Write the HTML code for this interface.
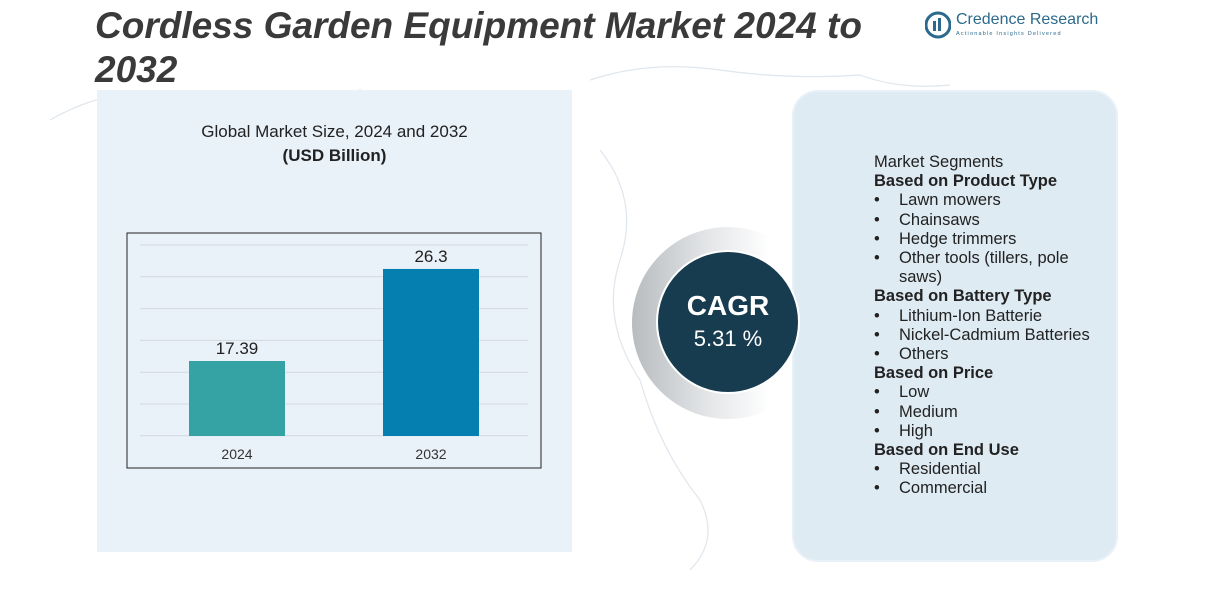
<!DOCTYPE html>
<html><head><meta charset="utf-8"><style>
body{margin:0;width:1232px;height:592px;background:#fff;overflow:hidden;font-family:"Liberation Sans",sans-serif;position:relative}
.abs{position:absolute}
#title{left:95px;top:4px;font-size:37px;font-weight:bold;font-style:italic;color:#3a3a3a;line-height:44px;width:800px}
#lp{left:97px;top:90px;width:475px;height:462px;background:#e9f1f9}
#rp{left:792px;top:90px;width:322px;height:468px;background:#deebf3;border:2px solid #e8f1f7;border-radius:26px}
.seg{left:874px;top:153px;font-size:16.5px;color:#222;line-height:19.2px}
.seg b{font-weight:bold}
.li{padding-left:25px;position:relative}
.li:before{content:"•";position:absolute;left:0}
</style></head><body>
<svg class="abs" style="left:0;top:0" width="1232" height="592">
<g fill="none" stroke="#dfe6ec" stroke-width="1.2">
<path d="M50 120 Q120 80 200 95 T360 90 Q420 110 480 100 L560 95"/>
<path d="M590 80 Q650 60 720 70 T860 75 Q900 90 950 85"/>
<path d="M600 150 Q640 200 620 260 Q600 320 640 380 Q660 450 700 500 Q720 540 690 570"/>
</g></svg>
<div id="title" class="abs">Cordless Garden Equipment Market 2024 to 2032</div>
<div class="abs" style="left:925px;top:10px;width:190px;height:30px;white-space:nowrap">
<svg width="26" height="28" style="position:absolute;left:0;top:1px"><circle cx="13" cy="14" r="12" fill="none" stroke="#2b6a8c" stroke-width="3"/><rect x="8" y="10" width="3" height="10" fill="#2b6a8c"/><rect x="13" y="7" width="3" height="13" fill="#2b6a8c"/></svg>
<div style="position:absolute;left:31px;top:1px;font-size:16px;color:#2b6a8c">Credence Research</div>
<div style="position:absolute;left:31px;top:21px;font-size:5.5px;color:#2b6a8c;letter-spacing:1.2px">Actionable Insights Delivered</div>
</div>
<div id="lp" class="abs"></div>
<div class="abs" style="left:97px;top:120px;width:475px;text-align:center;font-size:17px;color:#222;line-height:24px">Global Market Size, 2024 and 2032<br><b>(USD Billion)</b></div>
<svg id="chart" class="abs" style="left:0;top:0" width="600" height="592"></svg>
<div id="rp" class="abs"></div>
<div class="abs" style="left:632px;top:227px;width:192px;height:192px;border-radius:50%;background:linear-gradient(90deg,#b8bcbf 0%,#e4e6e8 40%,rgba(255,255,255,0) 72%)"></div>
<div class="abs" style="left:656px;top:250px;width:140px;height:140px;border-radius:50%;background:#173c4f;border:2px solid #fff;text-align:center;color:#fff">
<div style="margin-top:38px;font-size:28px;font-weight:bold">CAGR</div>
<div style="font-size:22px;margin-top:4px">5.31 %</div></div>
<div class="abs seg">
<div>Market Segments</div>
<div><b>Based on Product Type</b></div>
<div class="li">Lawn mowers</div><div class="li">Chainsaws</div><div class="li">Hedge trimmers</div>
<div class="li">Other tools (tillers, pole<br>saws)</div>
<div><b>Based on Battery Type</b></div>
<div class="li">Lithium-Ion Batterie</div><div class="li">Nickel-Cadmium Batteries</div><div class="li">Others</div>
<div><b>Based on Price</b></div>
<div class="li">Low</div><div class="li">Medium</div><div class="li">High</div>
<div><b>Based on End Use</b></div>
<div class="li">Residential</div><div class="li">Commercial</div>
</div>
<script>
const categories=["2024","2032"];
const values=[17.39,26.3];
const labels=["17.39","26.3"];
const colors=["#35a3a3","#047fb0"];
const svg=document.getElementById('chart');
const NS="http://www.w3.org/2000/svg";
const base=436, yMin=10.13, k=10.33;
function y(v){return base-k*(v-yMin);}
function x(i){return 189+i*194;}
function mk(t,a){const e=document.createElementNS(NS,t);for(const q in a)e.setAttribute(q,a[q]);svg.appendChild(e);return e;}
const box=mk('rect',{x:127,y:233,width:414,height:235,fill:'none',stroke:'#222','stroke-width':1});


for(let g=0;g<7;g++){const gy=245+g*31.8;const l=mk('line',{x1:140,x2:528,y1:gy,y2:gy,stroke:'#d3d9de'});

}
values.forEach((v,i)=>{
const r=mk('rect',{x:x(i),y:y(v),width:96,height:base-y(v),fill:colors[i]});


const t=mk('text',{x:x(i)+48,y:y(v)-7,'text-anchor':'middle','font-size':17,fill:'#222','font-family':'Liberation Sans'});t.textContent=labels[i];


const c=mk('text',{x:x(i)+48,y:459,'text-anchor':'middle','font-size':14,fill:'#333','font-family':'Liberation Sans'});c.textContent=categories[i];


});
</script>
</body></html>
